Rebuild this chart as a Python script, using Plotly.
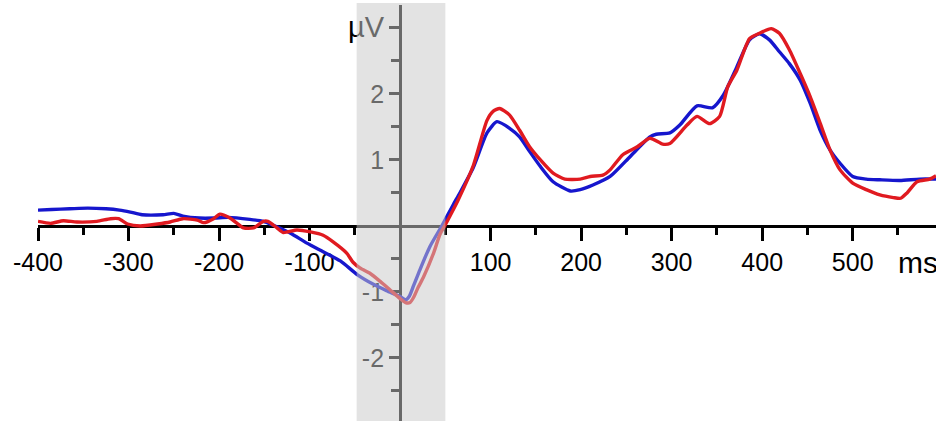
import plotly.graph_objects as go

# ---- data (ms, µV) ----
blue_ms = [-400, -385, -365, -345, -325, -310, -298, -285, -262, -250, -240, -222, -205, -190,
           -166, -151, -140, -121, -103, -85, -66, -47, -30, -15, 0, 6, 10, 15, 22, 33, 46, 59,
           66, 81, 96, 107, 121, 132, 143, 155, 169, 188, 199, 213, 232, 254, 276, 283, 298, 309,
           328, 345, 357, 372, 386, 397, 408, 419, 430, 442, 453, 464, 475, 486, 500, 515, 530,
           552, 574, 592]
blue_uv = [0.24, 0.25, 0.26, 0.27, 0.26, 0.24, 0.21, 0.17, 0.17, 0.19, 0.15, 0.12, 0.12, 0.13,
           0.10, 0.07, 0.01, -0.11, -0.26, -0.39, -0.53, -0.74, -0.88, -0.98, -1.07, -1.12, -1.07,
           -0.90, -0.66, -0.31, 0.0, 0.33, 0.50, 0.89, 1.41, 1.58, 1.48, 1.35, 1.13, 0.90, 0.67,
           0.53, 0.55, 0.62, 0.75, 1.05, 1.35, 1.39, 1.41, 1.53, 1.82, 1.79, 1.98, 2.41, 2.82,
           2.91, 2.82, 2.64, 2.46, 2.21, 1.86, 1.45, 1.15, 0.95, 0.75, 0.71, 0.70, 0.69, 0.71,
           0.71]

red_ms = [-400, -386, -372, -357, -335, -320, -311, -301, -287, -268, -254, -240, -224, -217,
          -206, -199, -188, -180, -173, -162, -151, -146, -136, -129, -114, -99, -85, -74, -59,
          -52, -44, -33, -22, -11, 0, 6, 11, 15, 20, 26, 37, 44, 50, 64, 81, 96, 103, 110, 121,
          132, 143, 155, 169, 182, 199, 210, 224, 232, 246, 262, 276, 290, 298, 317, 328, 342,
          353, 362, 372, 386, 397, 410, 419, 430, 442, 453, 464, 475, 486, 500, 515, 530, 545,
          553, 560, 571, 585, 592]
red_uv = [0.07, 0.04, 0.08, 0.06, 0.07, 0.11, 0.11, 0.03, 0.00, 0.03, 0.06, 0.11, 0.09, 0.05,
          0.11, 0.18, 0.12, 0.04, -0.03, -0.03, 0.07, 0.07, -0.03, -0.10, -0.06, -0.09, -0.14,
          -0.24, -0.41, -0.55, -0.64, -0.72, -0.84, -0.97, -1.10, -1.16, -1.16, -1.08, -0.93,
          -0.77, -0.41, -0.13, 0.02, 0.39, 0.92, 1.60, 1.74, 1.78, 1.68, 1.45, 1.20, 1.00, 0.80,
          0.71, 0.71, 0.75, 0.77, 0.85, 1.08, 1.20, 1.33, 1.24, 1.25, 1.53, 1.66, 1.55, 1.66,
          2.11, 2.36, 2.84, 2.92, 2.99, 2.92, 2.67, 2.31, 1.96, 1.56, 1.15, 0.85, 0.65, 0.55,
          0.47, 0.43, 0.42, 0.50, 0.67, 0.71, 0.76]

x_major = [-400, -300, -200, -100, 100, 200, 300, 400, 500]
x_major_labels = ["-400", "-300", "-200", "-100", "100", "200", "300", "400", "500"]
x_minor = [-350, -250, -150, -50, 50, 150, 250, 350, 450, 550]
y_major = [-2, -1, 1, 2, 3]
y_major_labels = ["-2", "-1", "1", "2", '<span style="font-size:29px">µV</span>']
y_minor = [-2.5, -1.5, -0.5, 0.5, 1.5, 2.5]
shade_ms = [-48, 50]

W, H = 936, 421
x_range = [-400, 592]
x_dom = [38 / W, 1.0]
y_range = [-2.955, 3.348]
y_dom = [0.0, (H - 5) / H]

xpos_zero = x_dom[0] + (0 - x_range[0]) / (x_range[1] - x_range[0]) * (x_dom[1] - x_dom[0])
ypos_zero = y_dom[0] + (0 - y_range[0]) / (y_range[1] - y_range[0]) * (y_dom[1] - y_dom[0])

fig = go.Figure()
fig.add_trace(go.Scatter(x=blue_ms, y=blue_uv, mode="lines",
                         line=dict(color="rgb(22,22,205)", width=3.4, shape="spline", smoothing=0.6),
                         hoverinfo="skip"))
fig.add_trace(go.Scatter(x=red_ms, y=red_uv, mode="lines",
                         line=dict(color="rgb(224,26,32)", width=3.4, shape="spline", smoothing=0.6),
                         hoverinfo="skip"))

tickfont = dict(family="Liberation Sans, Arial, sans-serif", size=25, color="black")

fig.update_layout(
    width=W, height=H,
    margin=dict(l=0, r=0, t=0, b=0, pad=0, autoexpand=False),
    paper_bgcolor="white", plot_bgcolor="white",
    showlegend=False,
    xaxis=dict(
        range=x_range, domain=x_dom, anchor="free", position=ypos_zero, automargin=False,
        showgrid=False, zeroline=False,
        showline=True, linecolor="black", linewidth=3,
        tickmode="array", tickvals=x_major, ticktext=x_major_labels,
        ticks="outside", ticklen=13, tickwidth=3, tickcolor="black",
        tickfont=tickfont, layer="below traces",
        minor=dict(tickmode="array", tickvals=x_minor, ticks="outside", ticklen=7,
                   tickwidth=3, tickcolor="black", showgrid=False),
    ),
    yaxis=dict(
        range=y_range, domain=y_dom, anchor="free", position=xpos_zero, automargin=False,
        showgrid=False, zeroline=False,
        showline=True, linecolor="black", linewidth=3,
        tickmode="array", tickvals=y_major, ticktext=y_major_labels,
        ticks="outside", ticklen=10, tickwidth=3, tickcolor="black",
        tickfont=tickfont, layer="below traces",
        minor=dict(tickmode="array", tickvals=y_minor, ticks="outside", ticklen=8,
                   tickwidth=3, tickcolor="black", showgrid=False),
    ),
    shapes=[dict(type="rect", xref="x", yref="paper", x0=shade_ms[0], x1=shade_ms[1],
                 y0=0, y1=(H - 3) / H, fillcolor="rgb(202,202,202)", opacity=0.52,
                 line=dict(width=0), layer="above")],
    annotations=[dict(text="ms", xref="paper", yref="paper", x=896 / W, y=(H - 262) / H,
                      xanchor="left", yanchor="middle", showarrow=False,
                      font=dict(family="Liberation Sans, Arial, sans-serif", size=30, color="black"))],
)

fig.write_html("out.html")
